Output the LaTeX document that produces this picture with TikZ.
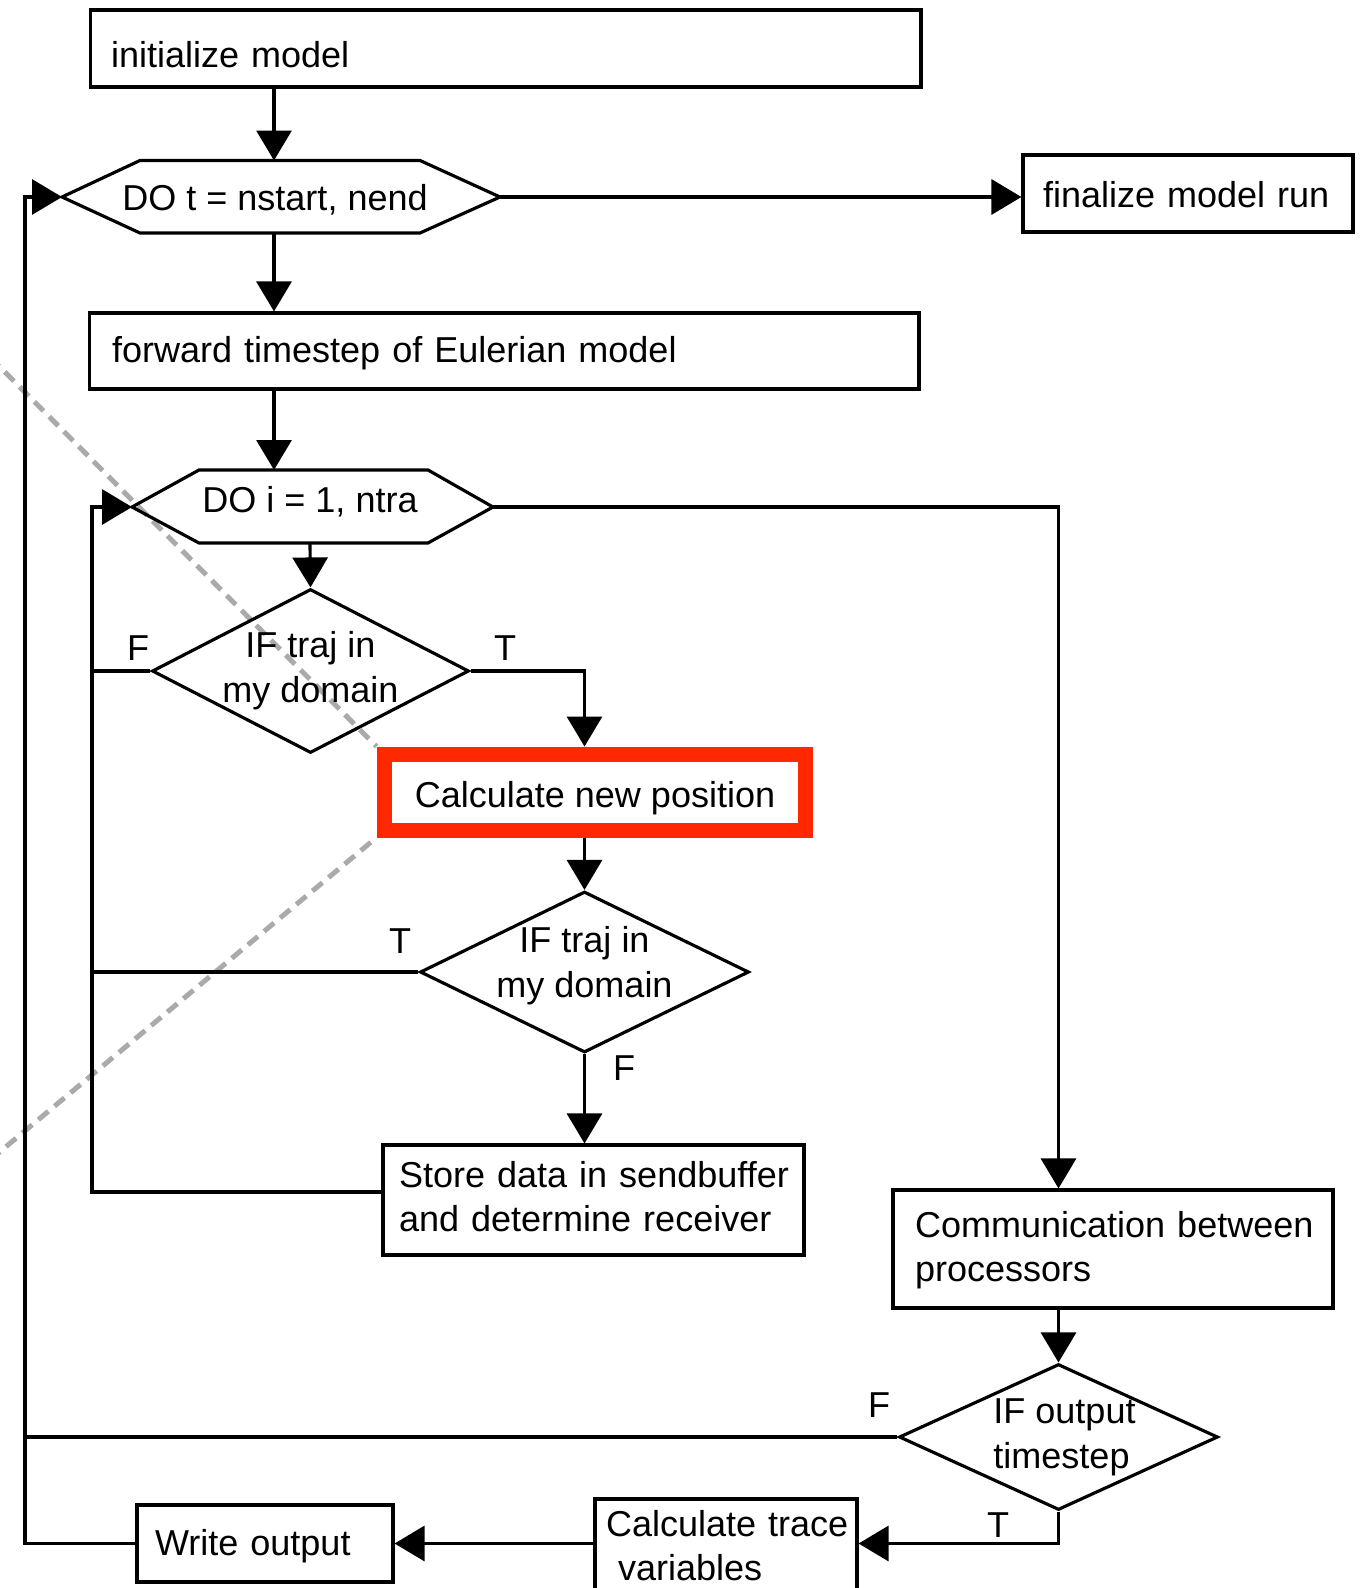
\documentclass[tikz,border=0pt]{standalone}
\usepackage{fontspec}
\setmainfont{Liberation Sans}
\usetikzlibrary{shapes.geometric}
\usetikzlibrary{arrows.meta}
\definecolor{hilite}{RGB}{255,40,0}
\definecolor{calloutgray}{RGB}{170,170,170}
\hyphenpenalty=10000
\exhyphenpenalty=10000
\tikzset{
    boxfont/.style = {font=\fontsize{20.5}{25.5}\selectfont},
    procbox/.style = {rectangle, line width=1.8pt, draw=black, align=left, inner ysep=0pt, text depth=0pt, boxfont},
    hotbox/.style = {rectangle, line width=0.3cm, draw=hilite, align=center, inner sep=0pt, text depth=0pt, boxfont},
    decision/.style = {diamond, line width=1.8pt, draw=black, inner sep=0pt},
    dlabel/.style = {align=center, inner sep=0pt, boxfont},
    hextext/.style = {anchor=base, inner sep=0pt, boxfont},
    hexa/.style = {line width=1.8pt},
    tf/.style = {inner sep=0pt, boxfont},
    flow/.style = {line width=1.8pt, -{Triangle[length=0.6cm,width=0.7cm]}},
    link/.style = {line width=1.8pt},
    callout/.style = {line width=0.1cm, draw=calloutgray, dash pattern=on 0.26cm off 0.16cm} % zoom lines
}
\begin{document}
\begin{tikzpicture}[x=0.02cm,y=-0.02cm]
\useasboundingbox (0,0) rectangle (1367,1588);
\clip (0,0) rectangle (1367,1588);
%
\coordinate (cu) at (-10,357);
\coordinate (cl) at (-10,1160);
\node[hotbox, minimum width=8.44cm, minimum height=1.52cm, text height=0.6cm] (calc) at (595,792) {Calculate new position};
\draw[callout] (cu) -- (calc.north west);
\draw[callout] (cl) -- (calc.south west);
%
\node[procbox, minimum width=16.62cm, minimum height=1.54cm, text width=15.78cm, inner xsep=0.42cm, text height=0.78cm] (init) at (505.5,48.5) {initialize model};
\node[procbox, minimum width=6.6cm, minimum height=1.54cm, text width=5.8cm, inner xsep=0.4cm, text height=0.58cm] (fin) at (1188,193.5) {finalize model run};
\node[procbox, minimum width=16.6cm, minimum height=1.52cm, text width=15.68cm, inner xsep=0.46cm, text height=0.44cm] (fwd) at (504,351) {forward timestep of Eulerian model};
\node[procbox, minimum width=8.42cm, minimum height=2.2cm, text width=7.78cm, inner xsep=0.32cm, text height=0.5cm, text depth=1.02cm] (store) at (593.5,1200) {Store~data~in~sendbuffer\\and determine receiver};
\node[procbox, minimum width=8.8cm, minimum height=2.36cm, text width=7.92cm, inner xsep=0.44cm, text height=0.5cm, text depth=0.98cm] (comm) at (1113,1249) {Communication~between\\processors};
\node[procbox, minimum width=5.24cm, minimum height=2.42cm, text width=4.8cm, inner xsep=0.22cm, text height=0.5cm, text depth=1.44cm] (trace) at (726,1559.5) {Calculate~trace\\~variables};
\node[procbox, minimum width=5.12cm, minimum height=1.54cm, text width=4.4cm, inner xsep=0.36cm, text height=0.46cm] (write) at (265,1543.5) {Write output};
%
\node[hextext] (dott) at (275,211) {DO t = nstart, nend};
\draw[hexa] (62,197) coordinate (dotW) -- (140,160.5) -- (420,160.5) -- (500,197) coordinate (dotE) -- (420,233) -- (140,233) -- cycle;
\node[hextext] (doit) at (310,512) {DO i = 1, ntra};
\draw[hexa] (132,507) coordinate (doiW) -- (199,470) -- (428,470) -- (493,507) coordinate (doiE) -- (428,543) -- (199,543) -- cycle;
\coordinate (dotN) at (274,160.5);
\coordinate (dotS) at (274,233);
\coordinate (doiN) at (274,470);
\coordinate (doiS) at (310,543);
%
\node[decision, minimum width=6.34cm, minimum height=3.28cm] (d1) at (310.5,671) {};
\node[dlabel] (d1t) at (d1) {IF traj in\\my domain};
\node[decision, minimum width=6.58cm, minimum height=3.22cm] (d2) at (584.5,972) {};
\node[dlabel, yshift=0.13cm] (d2t) at (d2) {IF traj in\\my domain};
\node[decision, minimum width=6.38cm, minimum height=2.92cm] (d3) at (1058.5,1437) {};
\node[dlabel, align=left, xshift=0.12cm] (d3t) at (d3) {IF output\\timestep};
%
\coordinate (iloop) at (92,1192);
\coordinate (oloop) at (25,1543.5);
%
\draw[flow] (init.south -| dotN) -- (dotN);
\draw[flow] (dotE) -- (dotE -| fin.west);
\draw[flow] (dotS) -- (dotS |- fwd.north);
\draw[flow] (fwd.south -| doiN) -- (doiN);
\draw[flow] (doiS) -- (d1.north);
\draw[link] (d1.west) -- (d1.west -| iloop);
\draw[flow] (d1.east) -| (d2.north |- calc.north);
\draw[flow] (calc.south -| d2.north) -- (d2.north);
\draw[link] (d2.west) -- (d2.west -| iloop);
\draw[flow] (d2.south) -- (d2.south |- store.north);
\draw[flow] (iloop -| store.west) -- (iloop) |- (doiW);
\draw[flow] (doiE) -| (d3.north |- comm.north);
\draw[flow] (comm.south -| d3.north) -- (d3.north);
\draw[link] (d3.west) -- (d3.west -| oloop);
\draw[flow] (d3.south) |- (trace.east |- write.east);
\draw[flow] (trace.west |- write.east) -- (write.east);
\draw[flow] (write.west) -- (oloop) |- (dotW);
%
\node[tf] (f1) at (138,648) {F};
\node[tf] (t1) at (505,648) {T};
\node[tf] (t2) at (400,941) {T};
\node[tf] (f2) at (624,1068) {F};
\node[tf] (f3) at (879,1405) {F};
\node[tf] (t3) at (998,1525) {T};
\end{tikzpicture}
\end{document}
